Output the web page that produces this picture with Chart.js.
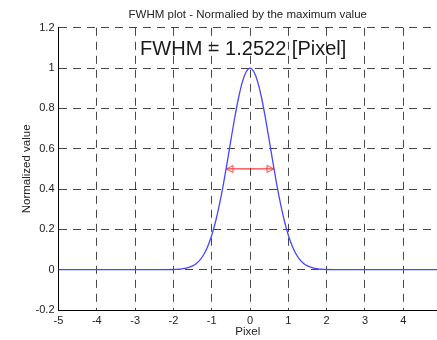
<!DOCTYPE html>
<html>
<head>
<meta charset="utf-8">
<script src="https://cdn.jsdelivr.net/npm/chart.js@4/dist/chart.umd.min.js"></script>
<style>
  body { margin: 0; background: #fff; }
</style>
</head>
<body>
<canvas id="fwhmChart" width="437" height="340"></canvas>
<script>
// Data
var pixel = [-5, -2.5, -2.0, -1.9, -1.8, -1.7, -1.6, -1.5, -1.4, -1.3, -1.2, -1.1, -1.0, -0.9, -0.8, -0.7, -0.6, -0.5, -0.4, -0.3, -0.2, -0.1,
             0, 0.1, 0.2, 0.3, 0.4, 0.5, 0.6, 0.7, 0.8, 0.9, 1.0, 1.1, 1.2, 1.3, 1.4, 1.5, 1.6, 1.7, 1.8, 1.9, 2.0, 2.5, 5];
var normValue = [0, 0, 0.001, 0.002, 0.003, 0.006, 0.011, 0.019, 0.031, 0.050, 0.078, 0.118, 0.171, 0.239, 0.323, 0.420, 0.529, 0.643, 0.754, 0.853, 0.932, 0.982,
                 1.0, 0.982, 0.932, 0.853, 0.754, 0.643, 0.529, 0.420, 0.323, 0.239, 0.171, 0.118, 0.078, 0.050, 0.031, 0.019, 0.011, 0.006, 0.003, 0.002, 0.001, 0, 0];

// FWHM arrow ends (half maximum)
var arrowX = [-0.626, 0.626];
var arrowY = [0.5, 0.5];

var xTicks = [-5, -4, -3, -2, -1, 0, 1, 2, 3, 4];
var yTicks = [-0.2, 0, 0.2, 0.4, 0.6, 0.8, 1, 1.2];

var fwhmLabel = 'FWHM = 1.2522 [Pixel]';
var labelPos = { x: -2.87, y: 1.066 };

Chart.defaults.font.family = '"Liberation Sans", Arial, sans-serif';
Chart.defaults.color = '#222';

// arrow head: open triangle with its tip at the centre of the image
function makeHead() {
    var c = document.createElement('canvas');
    c.width = 20; c.height = 10;
    var g = c.getContext('2d');
    g.strokeStyle = '#ff4040';
    g.lineWidth = 1;
    g.beginPath();
    g.moveTo(10, 5);
    g.lineTo(17, 1.5);
    g.lineTo(17, 8.5);
    g.closePath();
    g.stroke();
    return c;
}
var head = makeHead();

var curveData = pixel.map(function (x, i) { return { x: x, y: normValue[i] }; });
var arrowData = arrowX.map(function (x, i) { return { x: x, y: arrowY[i] }; });

var labelPlugin = {
    id: 'fwhmLabel',
    afterDatasetsDraw: function (chart) {
        var ctx = chart.ctx;
        ctx.save();
        ctx.font = '20px "Liberation Sans", Arial, sans-serif';
        ctx.fillStyle = '#1a1a1a';
        ctx.textAlign = 'left';
        ctx.textBaseline = 'alphabetic';
        ctx.fillText(fwhmLabel, chart.scales.x.getPixelForValue(labelPos.x), chart.scales.y.getPixelForValue(labelPos.y));
        ctx.restore();
    }
};

var gridDash = [8, 6];

var ctx = document.getElementById('fwhmChart').getContext('2d');
var fwhmChart = new Chart(ctx, {
    type: 'line',
    data: {
        datasets: [{
            label: 'Normalized',
            data: curveData,
            borderColor: 'rgb(70, 70, 255)',
            borderWidth: 1.3,
            pointRadius: 0,
            cubicInterpolationMode: 'monotone',
            fill: false
        }, {
            label: 'FWHM',
            data: arrowData,
            borderColor: '#ee1111',
            borderWidth: 1,
            pointStyle: head,
            pointRotation: [0, 180],
            pointRadius: 5,
            fill: false
        }]
    },
    options: {
        responsive: false,
        animation: false,
        layout: { padding: 0, autoPadding: false },
        plugins: {
            legend: { display: false },
            tooltip: { enabled: false },
            title: {
                display: true,
                text: 'FWHM plot - Normalied by the maximum value',
                fullSize: false,
                color: '#222',
                font: { size: 11.5, weight: 'normal' },
                padding: { top: 8, bottom: 6 }
            }
        },
        scales: {
            x: {
                type: 'linear',
                min: -5,
                max: 4.88,
                afterBuildTicks: function (s) { s.ticks = xTicks.map(function (v) { return { value: v }; }); },
                afterFit: function (s) { s.height = 30; },
                ticks: {
                    font: { size: 11 },
                    color: '#222',
                    padding: 4,
                    maxRotation: 0
                },
                grid: { color: 'rgba(0,0,0,0.72)', lineWidth: 1, drawTicks: false },
                border: { display: true, color: '#000', width: 1, dash: gridDash },
                title: { display: true, text: 'Pixel', font: { size: 11.5 }, color: '#222', padding: { top: 0, bottom: 1 } }
            },
            y: {
                min: -0.2,
                max: 1.2,
                afterBuildTicks: function (s) { s.ticks = yTicks.map(function (v) { return { value: v }; }); },
                afterFit: function (s) { s.width = 58.5; },
                ticks: {
                    font: { size: 11 },
                    color: '#222',
                    padding: 4,
                    callback: function (v) { return String(Math.round(v * 10) / 10); }
                },
                grid: { color: 'rgba(0,0,0,0.72)', lineWidth: 1, drawTicks: false },
                border: { display: true, color: '#000', width: 1, dash: gridDash },
                title: { display: true, text: 'Normalized value', font: { size: 11.5 }, color: '#222', padding: { top: 20, bottom: 0 } }
            }
        }
    },
    plugins: [labelPlugin]
});
</script>
</body>
</html>
